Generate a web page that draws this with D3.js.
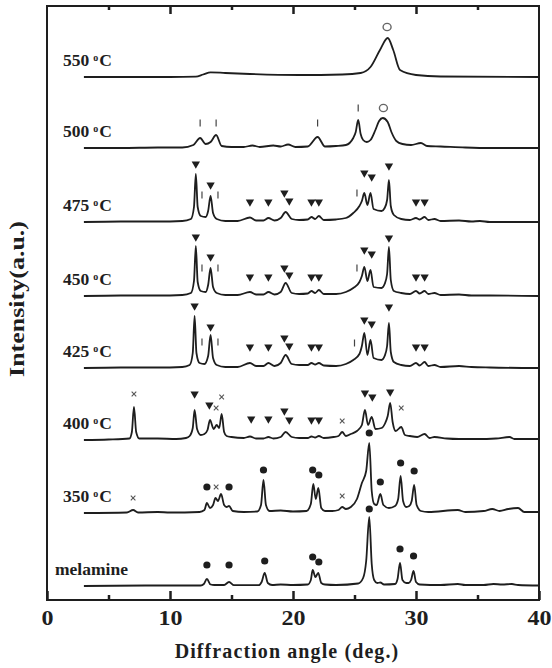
<!DOCTYPE html>
<html>
<head>
<meta charset="utf-8">
<script src="https://cdn.jsdelivr.net/npm/d3@7"></script>
<style>
  body { margin: 0; background: #fff; }
  text { font-family: "Liberation Serif", "Times New Roman", serif; font-weight: bold; fill: #1e1e1e; }
</style>
</head>
<body>
<div id="chart"></div>
<script>
// XRD patterns, [2theta (deg), intensity above own baseline (a.u.)]
var melamine = [[3,0],[8,0.5],[10,0.5],[12.5,0.5],[12.75,2],[13.0,7],[13.3,1.5],[13.6,1],[14.4,1],[14.8,4],[15.2,0.8],[17.2,0.8],[17.45,4],[17.7,13],[17.95,3],[18.3,1],[19,1.5],[20,1],[21.2,1.5],[21.45,6],[21.6,16],[21.82,9],[22.05,13],[22.3,3],[22.6,1.5],[23.5,1],[25.3,2.5],[25.7,8],[25.95,25],[26.2,69],[26.4,22],[26.6,6],[26.85,3],[27.1,3.5],[27.4,1.5],[28.3,2],[28.5,7],[28.7,23],[28.9,6],[29.2,3],[29.4,3],[29.6,6],[29.8,15],[30.0,4],[30.3,1.5],[32,1],[33.4,2],[34,1],[35.5,1],[36.3,2],[37,1.5],[37.8,2],[38.3,1],[40,0.5]];
var t350 = [[3,0],[6.5,0.5],[7.0,3],[7.4,0.5],[9,1],[10,0.5],[12.4,1],[12.8,3],[13.0,10],[13.25,5],[13.5,8],[13.7,15],[13.9,12],[14.15,19],[14.4,8],[14.6,6],[14.8,7],[15.1,2],[16,1],[17.1,1.5],[17.4,8],[17.6,33],[17.8,8],[18.1,2],[19,2.5],[20,1.5],[21.1,2],[21.45,9],[21.65,29],[21.85,14],[22.06,25],[22.3,5],[22.6,2],[23.2,2],[23.7,3],[24.0,6],[24.3,4],[24.7,6],[25.2,14],[25.6,30],[25.95,42],[26.2,70],[26.4,22],[26.6,9],[26.8,8],[27.1,19],[27.35,8],[27.8,5],[28.3,7],[28.55,14],[28.75,37],[28.95,12],[29.2,6],[29.45,7],[29.65,12],[29.85,28],[30.05,8],[30.4,2],[31,1],[33.4,3],[34,1],[35.5,2],[36.2,4],[36.8,2],[37.5,4],[38.3,5],[38.8,1],[40,1]];
var t400 = [[3,0],[5,0.5],[6.7,1.5],[6.9,8],[7.07,33],[7.25,8],[7.5,1.5],[9,1.5],[10.5,1],[11.3,2],[11.6,4],[11.85,12],[12.0,30],[12.2,11],[12.5,5],[12.8,6],[13.05,10],[13.25,20],[13.55,11],[13.8,15],[14.0,12],[14.2,26],[14.4,8],[14.6,4],[15,3],[16,2],[16.5,3.5],[17,1.5],[17.6,1.5],[18.0,3],[18.4,1.5],[19,3],[19.4,8],[19.9,3],[20.5,2],[21.2,2],[21.5,3.5],[21.8,2.5],[22.1,4],[22.5,2],[23.3,3],[23.7,4],[24.0,8],[24.3,4],[24.7,6],[25.2,9],[25.6,15],[25.85,30],[26.1,15],[26.4,23],[26.7,11],[27.2,12],[27.5,17],[27.7,24],[27.9,37],[28.1,18],[28.35,9],[28.8,13],[29.1,5],[29.5,4],[30.1,3],[30.7,6],[31.1,2],[31.5,3],[32.5,1.5],[33.5,1],[35,1],[36.5,1.5],[37.6,3],[38,1],[40,1]];
var t425 = [[3,0],[6,0.5],[9,0.5],[11,1],[11.6,3],[11.85,15],[12.0,52],[12.15,15],[12.4,5],[12.8,4],[13.1,12],[13.3,33],[13.5,10],[13.8,3],[14.5,1],[15.5,1],[16.5,5],[17,2],[17.6,2],[18.0,5],[18.5,2],[19.0,5],[19.4,13],[19.9,4],[20.5,3],[21.2,3],[21.5,5],[21.8,3.5],[22.1,5],[22.5,2.5],[23.5,2],[24.3,4],[24.9,8],[25.4,14],[25.6,22],[25.8,35],[26.05,13],[26.3,28],[26.55,10],[27.2,8],[27.45,12],[27.65,22],[27.8,45],[27.95,16],[28.2,6],[28.8,3],[29.5,2],[30.0,5],[30.3,2.5],[30.7,6],[31.0,2],[31.5,3],[32,1],[33.5,2],[34.5,1],[36,0.5],[40,0]];
var t450 = [[3,0],[6,0.5],[9,0.5],[11,1],[11.7,3],[11.95,15],[12.1,50],[12.25,14],[12.5,5],[12.9,4],[13.1,11],[13.3,28],[13.5,9],[13.8,3],[14.5,1],[15.5,1],[16.5,4],[17,1.5],[17.6,1.5],[18.0,4],[18.5,1.5],[19.0,4],[19.4,13],[19.9,3],[20.5,2],[21.2,2.5],[21.5,5],[21.8,3],[22.1,6],[22.5,2],[23.5,2],[24.3,4],[24.9,8],[25.4,14],[25.6,20],[25.8,29],[26.05,15],[26.3,26],[26.55,9],[27.2,8],[27.45,12],[27.65,22],[27.8,49],[27.95,16],[28.2,5],[28.8,3],[29.5,2],[30.0,5],[30.3,2.5],[30.7,5],[31.0,2],[31.5,3],[32,1],[33.5,1.5],[34.5,0.5],[36,0.5],[40,0]];
var t475 = [[3,0],[6,0.5],[9,0.5],[11,1],[11.7,3],[11.95,15],[12.1,48],[12.25,15],[12.5,6],[12.9,5],[13.1,11],[13.3,26],[13.5,9],[13.8,3],[14.5,1],[15.5,1],[16.5,4.5],[17,1.5],[17.6,1.5],[18.0,4],[18.5,1.5],[19.0,4],[19.4,10],[19.9,3],[20.5,2],[21.2,2.5],[21.5,5],[21.8,3],[22.1,6],[22.5,2],[23.5,2.5],[24.3,4],[24.9,9],[25.4,16],[25.6,21],[25.8,29],[26.05,17],[26.3,29],[26.55,13],[27.2,11],[27.45,14],[27.65,22],[27.8,42],[27.95,16],[28.2,7],[28.8,3],[29.5,2],[30.0,4],[30.3,2.5],[30.7,5],[31.0,2],[31.5,3],[32,1],[33.5,1.5],[34.5,0.5],[35.2,1],[36,0],[40,0]];
var t500 = [[3,0],[6,0],[9,0.5],[11,0.5],[11.9,3],[12.45,10],[12.9,4],[13.3,6],[13.75,13],[14.2,2],[15,1],[16,1],[16.7,2.5],[17.3,1],[18.4,2.5],[19,1.5],[19.6,3.5],[20.2,1],[21.2,1.5],[22.0,11],[22.6,1.5],[23.5,2],[24.3,3],[24.9,10],[25.1,16],[25.3,28],[25.5,14],[25.7,8],[26.0,6],[26.3,8],[26.7,18],[27.0,27],[27.3,30],[27.7,26],[28.0,16],[28.4,7],[28.9,4],[29.6,3],[30.4,5],[30.9,2],[32,1.5],[34,0.5],[36,0],[40,0]];
var t550 = [[3,0],[10,0],[12.1,0.3],[12.7,2.5],[13.3,4.7],[14.5,4],[16.5,3],[20.5,2],[24,2.5],[25.5,4],[26.3,10],[27.07,27],[27.7,39],[28.15,27],[28.7,7],[30,2],[32,0.5],[40,0]];

var series = [melamine, t350, t400, t425, t450, t475, t500, t550];
var labels = ["melamine", "350", "400", "425", "450", "475", "500", "550"];
var offsets = [14, 87, 160, 232, 304, 378, 452, 523];

// phase markers: [type, 2theta, height above baseline]
var mkMelamine = [["dot",13.0,21],["dot",14.8,21],["dot",17.7,25],["dot",21.6,29],["dot",22.1,24],["dot",26.2,77],["dot",28.7,37],["dot",29.8,30]];
var mk350 = [["x",7.0,15],["dot",13.0,26],["x",13.75,26],["dot",14.8,26],["dot",17.6,43],["dot",21.6,43],["dot",22.1,38],["x",24.0,17],["dot",26.2,80],["dot",27.1,31],["dot",28.75,50],["dot",29.85,42]];
var mk400 = [["x",7.07,46],["tri",12.0,46],["tri",13.2,35],["x",13.75,32],["x",14.2,43],["tri",16.6,21],["tri",18.0,21],["tri",19.3,29],["tri",19.7,20],["tri",21.5,20],["tri",22.1,20],["x",24.0,19],["tri",25.85,47],["tri",26.45,43],["tri",27.9,48],["x",28.8,32]];
var mk425 = [["tri",12.0,62],["tri",13.3,41],["bar",12.6,26],["bar",13.9,26],["tri",16.5,21],["tri",18.0,21],["tri",19.3,30],["tri",19.7,22],["tri",21.5,21],["tri",22.1,21],["bar",25.0,25],["tri",25.8,48],["tri",26.4,44],["tri",27.8,61],["tri",30.0,21],["tri",30.7,21]];
var mk450 = [["tri",12.1,59],["tri",13.3,39],["bar",12.6,28],["bar",13.9,28],["tri",16.5,19],["tri",18.0,19],["tri",19.3,28],["tri",19.7,21],["tri",21.5,19],["tri",22.1,19],["bar",25.2,28],["tri",25.8,46],["tri",26.4,42],["tri",27.8,58],["tri",30.0,19],["tri",30.7,19]];
var mk475 = [["tri",12.1,58],["tri",13.3,37],["bar",12.6,27],["bar",13.9,27],["tri",16.5,20],["tri",18.0,20],["tri",19.3,29],["tri",19.7,21],["tri",21.5,20],["tri",22.1,20],["bar",25.2,29],["tri",25.8,49],["tri",26.4,45],["tri",27.8,56],["tri",30.0,20],["tri",30.7,20]];
var mk500 = [["bar",12.45,25],["bar",13.75,25],["bar",22.0,25],["bar",25.3,40],["o",27.35,40]];
var mk550 = [["o",27.65,50]];
var markers = [mkMelamine, mk350, mk400, mk425, mk450, mk475, mk500, mk550];

var majorTicks = [0, 10, 20, 30, 40];
var minorTicks = [5, 15, 25, 35];

var margin = {top: 6, right: 13, bottom: 68, left: 47},
    width = 552 - margin.left - margin.right,
    height = 668 - margin.top - margin.bottom;

var x = d3.scaleLinear().domain([0, 40]).range([0, width]);
var y = d3.scaleLinear().domain([0, 594]).range([height, 0]);

var svg = d3.select("#chart").append("svg")
    .attr("width", 552)
    .attr("height", 668)
  .append("g")
    .attr("transform", "translate(" + margin.left + "," + margin.top + ")");

// axes: inward ticks top and bottom
function styleAxis(g) {
  g.select(".domain").remove();
  g.selectAll(".tick line").attr("stroke", "#1e1e1e").attr("stroke-width", 2.5);
  g.selectAll(".tick text").attr("font-size", "20px").attr("fill", "#1e1e1e")
    .attr("transform", "scale(1.2,1)")
    .style("font-family", "'Liberation Serif', serif").style("font-weight", "bold");
}
svg.append("g").attr("transform", "translate(0," + height + ")")
  .call(d3.axisBottom(x).tickValues(majorTicks).tickSize(-9).tickPadding(11).tickFormat(d3.format("d")))
  .call(styleAxis);
svg.append("g").attr("transform", "translate(0," + height + ")")
  .call(d3.axisBottom(x).tickValues(minorTicks).tickSize(-5).tickFormat(""))
  .call(styleAxis);
svg.append("g")
  .call(d3.axisTop(x).tickValues(majorTicks.slice(1, 4)).tickSize(-8).tickFormat(""))
  .call(styleAxis);
svg.append("g")
  .call(d3.axisTop(x).tickValues(minorTicks).tickSize(-4).tickFormat(""))
  .call(styleAxis);

svg.append("rect")
  .attr("width", width).attr("height", height)
  .attr("fill", "none").attr("stroke", "#1e1e1e").attr("stroke-width", 2);

// patterns
series.forEach(function(data, i) {
  var off = offsets[i];
  var line = d3.line()
    .x(function(d) { return x(d[0]); })
    .y(function(d) { return y(off + d[1]); })
    .curve(d3.curveMonotoneX);
  svg.append("path")
    .datum(data)
    .attr("d", line)
    .attr("fill", "none")
    .attr("stroke", "#1e1e1e")
    .attr("stroke-width", 1.8)
    .attr("stroke-linejoin", "round");

  // label
  var lab = svg.append("text")
    .attr("x", i === 0 ? 8 : 16)
    .attr("y", y(off + 11.5))
    .attr("font-size", "17.5px");
  if (i === 0) {
    lab.text(labels[i]);
  } else {
    lab.append("tspan").text(labels[i]);
    lab.append("tspan").attr("dx", 4).attr("dy", -5).attr("font-size", "10px").text("o");
    lab.append("tspan").attr("dx", 1).attr("dy", 5).text("C");
  }

  // markers
  var mk = svg.append("g");
  markers[i].forEach(function(m) {
    var cx = x(m[1]), cy = y(off + m[2]);
    if (m[0] === "tri") {
      mk.append("path")
        .attr("d", d3.symbol(d3.symbolTriangle, 30)())
        .attr("transform", "translate(" + cx + "," + cy + ") rotate(180)")
        .attr("fill", "#1e1e1e");
    } else if (m[0] === "dot") {
      mk.append("circle").attr("cx", cx).attr("cy", cy).attr("r", 3.6).attr("fill", "#1e1e1e");
    } else if (m[0] === "x") {
      mk.append("path")
        .attr("d", "M-2.3,-2.3L2.3,2.3M-2.3,2.3L2.3,-2.3")
        .attr("transform", "translate(" + cx + "," + cy + ")")
        .attr("stroke", "#555").attr("stroke-width", 1.1);
    } else if (m[0] === "bar") {
      mk.append("line").attr("x1", cx).attr("x2", cx).attr("y1", cy - 3.5).attr("y2", cy + 3.5)
        .attr("stroke", "#444").attr("stroke-width", 1.2);
    } else if (m[0] === "o") {
      mk.append("ellipse").attr("cx", cx).attr("cy", cy).attr("rx", 4).attr("ry", 3.6)
        .attr("fill", "none").attr("stroke", "#666").attr("stroke-width", 1.4);
    }
  });
});

// axis titles
svg.append("text")
  .attr("x", 240)
  .attr("y", height + 58)
  .attr("text-anchor", "middle")
  .attr("font-size", "20px")
  .style("letter-spacing", "1.1px")
  .text("Diffraction angle (deg.)");

svg.append("text")
  .attr("transform", "translate(" + (24 - margin.left) + "," + (299 - margin.top) + ") rotate(-90) scale(1.3,1)")
  .attr("text-anchor", "middle")
  .attr("font-size", "20px")
  .text("Intensity(a.u.)");
</script>
</body>
</html>
